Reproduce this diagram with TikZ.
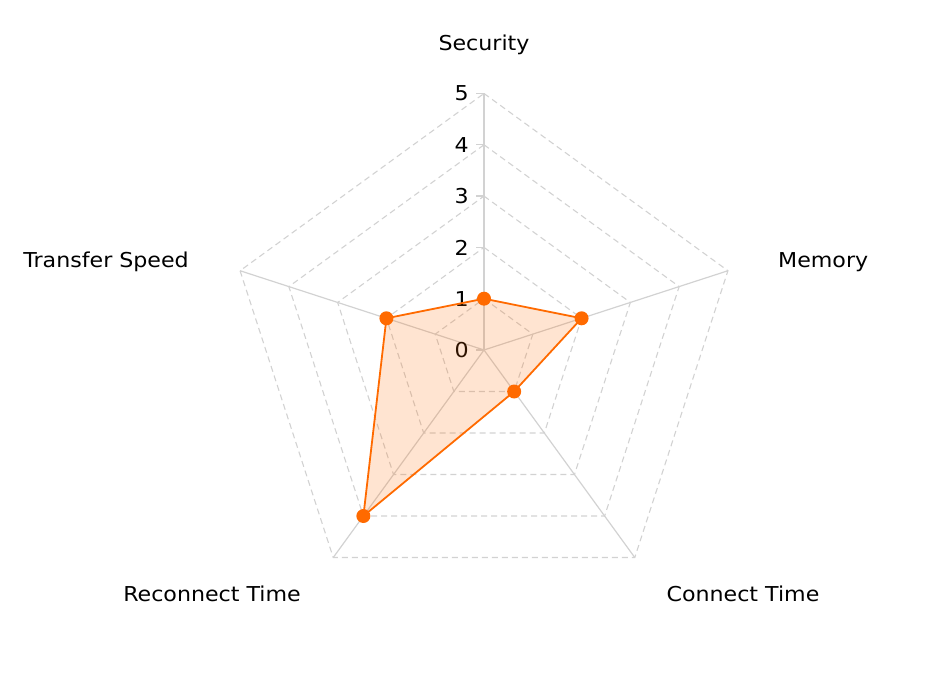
\documentclass[tikz,border=0pt]{standalone}
\usepackage{fontspec}
\setmainfont[FakeStretch=1.08]{DejaVu Sans}
\usetikzlibrary{positioning}
\definecolor{orng}{HTML}{FF6A00}
\definecolor{gridgray}{HTML}{D2D2D2}

\begin{document}
\begin{tikzpicture}[x=1pt,y=1pt,font=\fontsize{20.5}{24}\selectfont]
            \tikzstyle{spoke}=[draw=gridgray,line width=1.2pt]
            \tikzstyle{ring}=[draw=gridgray,dash pattern=on 6pt off 4pt,line width=1.1pt]
            \tikzstyle{dot}=[circle,fill=orng,inner sep=0pt,minimum size=14pt]
            \tikzstyle{tick}=[inner sep=0pt,anchor=east]
            \tikzstyle{axislabel}=[inner sep=0pt]
            \useasboundingbox (0,0) rectangle (942,678);
            \coordinate (o) at (484,328);

            \begin{scope}[shift={(o)}]
            % grid rings
            \foreach \r in {1,...,5}
                \draw[ring] (90:\r*51.3) -- (18:\r*51.3) -- (-54:\r*51.3) -- (-126:\r*51.3) -- (162:\r*51.3) -- cycle;
            % spokes
            \foreach \a/\n in {90/sec,18/mem,-54/con,-126/rec,162/tra}
                \draw[spoke] (o) -- (\a:256.5) coordinate (\n5);
            % scale
            \foreach \r in {0,...,5} {
                \draw[spoke] (-8,\r*51.3) -- (0,\r*51.3);
                \node[tick] (t\r) at (-15,\r*51.3) {\r};
            }

            % data
            \coordinate (vsec) at (90:1*51.3);
            \coordinate (vmem) at (18:2*51.3);
            \coordinate (vcon) at (-54:1*51.3);
            \coordinate (vrec) at (-126:4*51.3);
            \coordinate (vtra) at (162:2*51.3);
            \end{scope}
            \draw[orng,line width=1.8pt,fill=orng,fill opacity=0.18,line join=round] (vsec) -- (vmem) -- (vcon) -- (vrec) -- (vtra) -- cycle;
            \foreach \n in {sec,mem,con,rec,tra}
                \node[dot] (d\n) at (v\n) {};

            % axis labels
            \node[axislabel] (lsec) at (484,633) {Security};
            \node[axislabel,anchor=west] (lmem) at (778,416) {Memory};
            \node[axislabel,anchor=east] (ltra) at (189,416) {Transfer Speed};
            \node[axislabel] (lcon) at (743,84) {Connect Time};
            \node[axislabel] (lrec) at (212,84) {Reconnect Time};
        \end{tikzpicture}
\end{document}
